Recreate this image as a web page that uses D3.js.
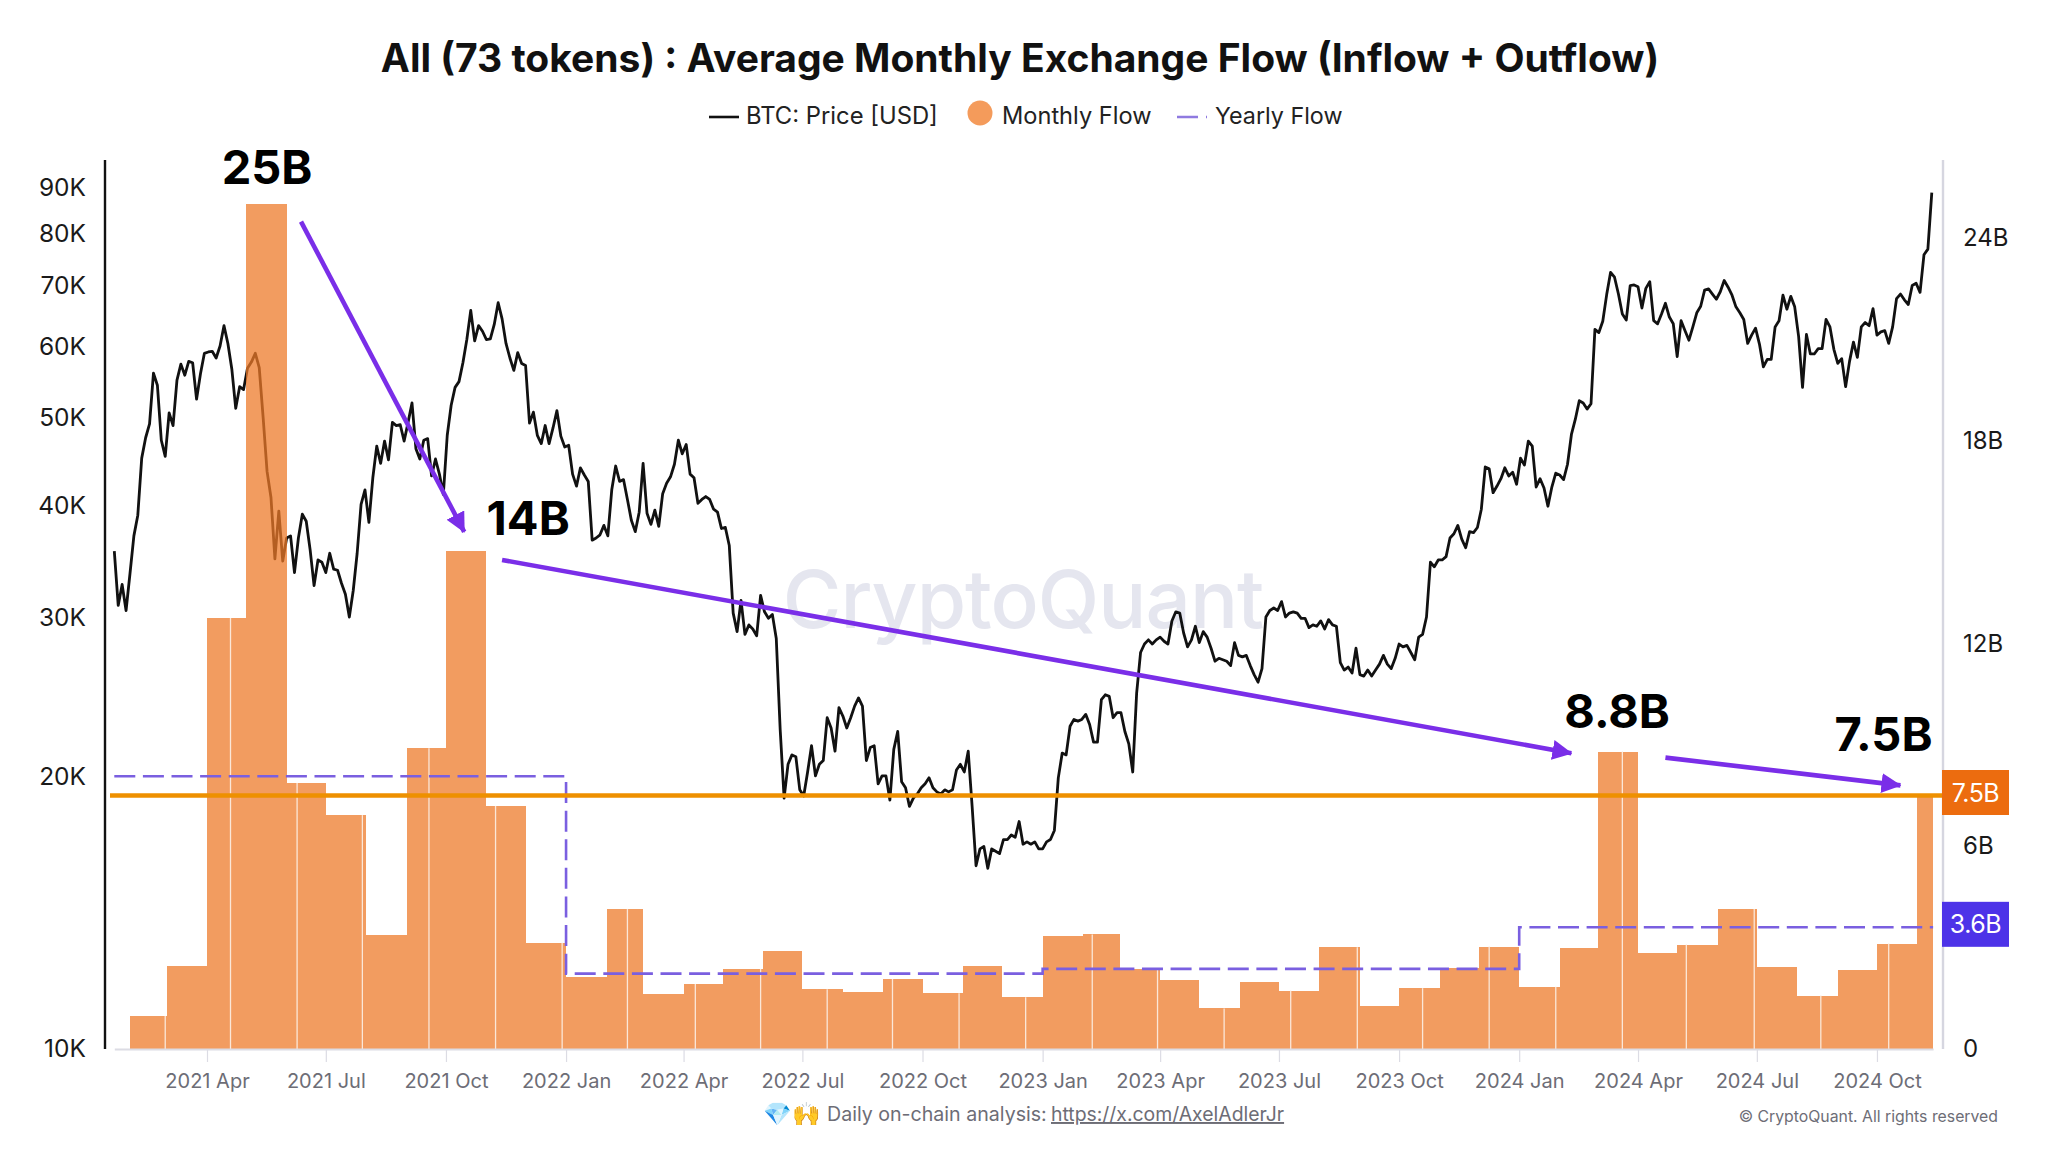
<!DOCTYPE html>
<html><head><meta charset="utf-8">
<script src="https://cdn.jsdelivr.net/npm/d3@7/dist/d3.min.js"></script>
<style>html,body{margin:0;padding:0;background:#fff}svg{display:block}text{font-family:Inter,"Noto Sans",sans-serif}</style>
</head><body><svg id="c" width="2048" height="1152"></svg>
<script>
// Monthly flow in billions USD, one value per calendar month starting Feb 2021
const flowStartMonth = "2021-02-01";
const monthlyFlow = [0.98,2.46,12.75,25.0,7.87,6.92,3.36,8.9,14.74,7.19,3.14,
  2.13,4.14,1.63,1.92,2.37,2.9,1.77,1.69,2.07,1.65,2.45,1.53,
  3.35,3.39,2.37,2.03,1.2,1.99,1.73,3.01,1.27,1.8,2.4,3.03,
  1.84,2.98,8.8,2.83,3.09,4.14,2.44,1.58,2.33,3.12,7.5];
// Yearly flow in billions USD
const yearlyStarts = ["2021-01-20","2022-01-01","2023-01-01","2024-01-01","2024-11-13"];
const yearlyFlow = [8.07,2.23,2.37,3.6,3.6];
// BTC price in thousand USD, one reading every 3 days starting 2021-01-20
const priceStart = "2021-01-20";
const btcPrice = [35.5,30.9,32.6,30.5,33.5,36.9,38.9,45.0,47.4,49.1,55.9,54.2,47.1,45.2,
 50.5,48.9,54.9,57.2,55.6,57.6,57.4,52.3,55.8,58.8,59.0,59.1,58.1,59.9,63.1,60.3,56.5,51.1,54.0,53.6,
 56.6,57.5,58.8,56.7,49.9,43.5,40.7,34.8,39.3,34.6,36.7,36.9,33.6,36.7,39.0,38.3,35.6,32.5,34.7,34.5,
 33.6,35.3,33.9,33.8,32.7,31.8,30.0,32.1,35.3,40.0,41.5,38.2,42.8,46.4,44.4,47.0,44.8,49.3,48.9,49.0,47.0,
 49.3,51.8,46.1,44.9,47.1,47.3,43.0,44.9,43.2,41.0,47.7,51.5,53.9,54.7,57.4,60.9,65.6,60.7,63.1,62.2,
 60.9,61.0,63.3,66.9,64.2,60.3,58.1,56.3,58.9,57.3,57.0,49.2,50.6,47.7,46.7,48.9,46.7,48.6,50.8,47.6,46.3,
 46.5,43.2,41.9,43.9,43.1,42.4,36.5,36.7,37.0,37.9,36.9,41.5,44.1,42.4,42.6,40.5,38.4,37.3,39.2,
 44.4,39.1,38.0,39.4,37.8,41.1,42.2,42.9,44.3,47.1,45.5,46.6,43.2,42.8,40.1,40.5,40.8,40.5,39.5,39.2,37.6,
 37.7,36.0,30.3,28.9,31.3,28.7,29.4,29.1,28.6,31.7,30.4,29.9,30.2,28.4,22.5,18.9,20.6,21.1,21.0,19.3,
 19.0,20.2,21.6,20.0,20.6,20.8,23.2,22.6,21.3,23.8,23.3,22.6,23.2,23.9,24.4,23.9,20.8,21.5,21.6,19.6,20.0,
 20.0,18.8,21.4,22.4,19.7,19.4,18.5,18.9,19.1,19.4,19.6,19.9,19.4,19.2,19.1,19.3,19.2,19.3,20.3,20.6,
 20.2,21.3,18.5,15.9,16.6,16.7,15.8,16.6,16.5,16.4,17.0,17.0,17.2,17.1,17.8,16.8,16.9,16.8,16.9,16.6,
 16.6,16.9,17.0,17.4,19.9,21.2,21.1,22.7,23.1,23.0,23.1,23.4,22.8,21.8,21.8,24.3,24.6,24.5,23.2,23.5,
 23.5,22.4,21.7,20.2,24.7,27.4,28.0,28.3,28.0,28.3,28.5,28.2,28.0,29.7,30.4,30.3,28.8,27.8,28.3,29.3,
 28.1,28.9,28.5,27.7,26.8,27.0,26.9,26.8,26.5,28.1,27.2,27.1,27.2,26.5,25.9,25.4,26.3,30.0,30.5,30.7,30.5,
 31.2,30.0,30.3,30.4,30.3,29.9,29.9,29.2,29.4,29.3,29.7,29.1,29.8,29.4,29.3,26.7,26.2,26.4,26.0,27.7,
 25.9,25.8,26.2,25.8,26.2,26.6,27.2,26.6,26.3,27.0,28.0,27.8,27.9,27.4,26.9,28.5,28.7,30.0,34.5,34.1,34.7,
 34.7,35.0,36.7,37.1,37.9,36.6,35.8,37.3,37.2,37.7,39.5,44.0,43.8,41.2,41.9,42.7,43.9,43.0,43.4,42.1,
 45.0,44.2,47.0,46.4,41.8,42.7,41.7,39.8,41.8,43.3,43.1,42.6,44.3,47.8,49.7,52.1,51.8,51.0,51.7,62.5,
 62.0,63.8,68.3,72.3,71.4,68.4,65.0,64.0,69.9,70.0,69.7,66.0,69.4,70.6,63.9,63.4,65.0,66.8,64.5,63.4,
 58.3,63.9,62.3,60.8,62.9,65.2,66.3,69.1,69.3,68.4,67.5,68.8,70.8,69.6,68.2,66.2,65.2,64.1,60.3,61.6,62.7,
 60.2,56.8,57.9,57.9,62.9,63.9,68.2,65.8,68.0,66.2,61.4,53.9,61.7,58.7,58.7,59.5,59.5,64.1,62.9,59.4,
 57.3,58.0,54.0,57.6,60.5,58.2,62.9,63.6,63.1,65.9,61.6,62.1,62.3,60.3,62.9,67.6,68.4,67.4,66.6,69.9,70.3,
 68.7,75.6,76.7,88.6];
// Axes
const xTickDates = ["2021-04-01","2021-07-01","2021-10-01","2022-01-01","2022-04-01","2022-07-01","2022-10-01","2023-01-01","2023-04-01","2023-07-01","2023-10-01","2024-01-01","2024-04-01","2024-07-01","2024-10-01"];
const xTickLabels = ["2021 Apr","2021 Jul","2021 Oct","2022 Jan","2022 Apr","2022 Jul","2022 Oct","2023 Jan","2023 Apr","2023 Jul","2023 Oct","2024 Jan","2024 Apr","2024 Jul","2024 Oct"];
const priceTicks = [10000,20000,30000,40000,50000,60000,70000,80000,90000];
const priceTickLabels = ["10K","20K","30K","40K","50K","60K","70K","80K","90K"];
const flowTicks = [0,6,12,18,24];
const flowTickLabels = ["0","6B","12B","18B","24B"];
// Thin pale seams that show in the bars, dates
const seamDates = ["2021-02-28","2021-04-19","2021-06-09","2021-07-29","2021-09-18","2021-11-08","2021-12-29","2022-02-17","2022-04-10","2022-05-30","2022-07-20","2022-09-08","2022-10-29","2022-12-19","2023-02-08","2023-03-30","2023-05-20","2023-07-10","2023-08-30","2023-10-19","2023-12-09","2024-01-29","2024-03-20","2024-05-08","2024-06-29","2024-08-19","2024-10-10"];
// Annotations
const refLine = 7.5;
const endTags = [{v:7.5,label:"7.5B",color:"#ec6c0f"},{v:3.6,label:"3.6B",color:"#4d33e8"}];
const calloutLabels = [["25B","2021-05-17",25.6],["14B","2021-12-03",15.2],["8.8B","2024-03-16",9.5],["7.5B","2024-10-06",8.82]];
const arrows = [["2021-06-12",24.48,"2021-10-15",15.3],["2021-11-13",14.47,"2024-02-10",8.75],["2024-04-22",8.62,"2024-10-19",7.8]];

const svg = d3.select("#c");
const D = s => new Date(s+"T00:00:00Z");
const x = d3.scaleUtc().domain([D("2021-01-20"),D("2024-11-13")]).range([114.3,1933.1]);
const yP = d3.scaleLog().domain([10000,90000]).range([1047.5,186.5]);
const yF = d3.scaleLinear().domain([0,25]).range([1049,204]);
const base = yF(0);

// watermark
svg.append("text").attr("x",1023).attr("y",628).attr("text-anchor","middle")
  .attr("font-size",80).attr("font-weight",500).attr("fill","#e5e6ef").attr("letter-spacing",-1).text("CryptoQuant");

// price line (under the translucent bars)
const pStart = D(priceStart);
const priceLine = d3.line().x((d,i)=>x(d3.utcDay.offset(pStart,i*3))).y(d=>yP(d*1000));
svg.append("path").attr("d",priceLine(btcPrice)).attr("fill","none").attr("stroke","#111").attr("stroke-width",2.8).attr("stroke-linejoin","round");

// bars
const mStart = D(flowStartMonth);
const bars = monthlyFlow.map((v,i)=>({v,a:d3.utcMonth.offset(mStart,i),b:i==monthlyFlow.length-1?D("2024-11-13"):d3.utcMonth.offset(mStart,i+1)}));
svg.append("g").selectAll("rect").data(bars).join("rect")
  .attr("x",d=>Math.round(x(d.a))).attr("width",d=>Math.round(x(d.b))-Math.round(x(d.a)))
  .attr("y",d=>yF(d.v)).attr("height",d=>base-yF(d.v))
  .attr("fill","#ee7a28").attr("fill-opacity",.74).attr("shape-rendering","crispEdges");
// seams
svg.append("g").selectAll("line").data(seamDates.map(D)).join("line")
  .attr("x1",d=>x(d)).attr("x2",d=>x(d))
  .attr("y1",d=>yF(bars.find(b=>d>=b.a&&d<b.b).v)).attr("y2",base)
  .attr("stroke","#fbe7d8").attr("stroke-width",1.3);

// axes
const gx = svg.append("g").attr("transform",`translate(0,${base})`).call(
  d3.axisBottom(x).tickValues(xTickDates.map(D)).tickSizeInner(13).tickSizeOuter(0).tickPadding(12).tickFormat((d,i)=>xTickLabels[i]));
gx.select(".domain").attr("stroke","#dcdce4").attr("stroke-width",2);
gx.selectAll(".tick line").attr("stroke","#dcdce4").attr("stroke-width",1.2);
gx.selectAll("text").attr("font-size",20).attr("fill","#6d6d76").attr("font-family","Inter");

const gl = svg.append("g").attr("transform","translate(105,1)").call(
  d3.axisLeft(yP).tickValues(priceTicks).tickSize(0).tickPadding(19).tickFormat((d,i)=>priceTickLabels[i]));
gl.select(".domain").remove();
gl.selectAll("text").attr("font-size",24.5).attr("fill","#1a1a1a").attr("font-family","Inter");
svg.append("line").attr("x1",105).attr("x2",105).attr("y1",160).attr("y2",base).attr("stroke","#111").attr("stroke-width",2.4);

const gr = svg.append("g").attr("transform","translate(1943,0)").call(
  d3.axisRight(yF).tickValues(flowTicks).tickSize(0).tickPadding(20).tickFormat((d,i)=>flowTickLabels[i]));
gr.select(".domain").remove();
gr.selectAll("text").attr("font-size",24).attr("fill","#1a1a1a").attr("font-family","Inter");
svg.append("line").attr("x1",1943).attr("x2",1943).attr("y1",160).attr("y2",base).attr("stroke","#d6d6e0").attr("stroke-width",2.4);

// yearly dashed step
const ySeries = yearlyStarts.map((s,i)=>[D(s),yearlyFlow[i]]);
svg.append("path").attr("d",d3.line().x(d=>x(d[0])).y(d=>yF(d[1])).curve(d3.curveStepAfter)(ySeries))
  .attr("fill","none").attr("stroke","#7a5fe0").attr("stroke-width",2.6).attr("stroke-dasharray","21 7.6");

// reference line + tags
svg.append("line").attr("x1",110).attr("x2",1946).attr("y1",yF(refLine)).attr("y2",yF(refLine)).attr("stroke","#ee9000").attr("stroke-width",4.5);
const tags = svg.append("g").selectAll("g").data(endTags).join("g").attr("transform",d=>`translate(1942,${yF(d.v)-3})`);
tags.append("rect").attr("x",0).attr("y",-22.5).attr("width",67).attr("height",45).attr("fill",d=>d.color);
tags.append("text").attr("x",33.5).attr("y",9).attr("text-anchor","middle").attr("font-size",25).attr("letter-spacing",-.5).attr("fill","#fff").text(d=>d.label);

// arrows
const purple = "#7a2ee8";
const defs = svg.append("defs");
defs.append("marker").attr("id","ah").attr("viewBox","0 0 10 10").attr("refX",9.5).attr("refY",5)
  .attr("markerUnits","userSpaceOnUse").attr("markerWidth",20).attr("markerHeight",20).attr("orient","auto")
  .append("path").attr("d","M0,0L10,5L0,10Z").attr("fill",purple);
svg.append("g").selectAll("line").data(arrows).join("line")
  .attr("x1",d=>x(D(d[0]))).attr("y1",d=>yF(d[1])).attr("x2",d=>x(D(d[2]))).attr("y2",d=>yF(d[3]))
  .attr("stroke",purple).attr("stroke-width",4.6).attr("marker-end","url(#ah)");
// callouts
svg.append("g").selectAll("text").data(calloutLabels).join("text")
  .attr("x",d=>x(D(d[1]))).attr("y",d=>yF(d[2])).attr("text-anchor","middle")
  .attr("font-size",47).attr("font-weight",700).attr("fill","#000").text(d=>d[0]);

// title
svg.append("text").attr("x",1020).attr("y",72).attr("text-anchor","middle").attr("font-size",39).attr("font-weight",700).attr("fill","#111")
  .text("All (73 tokens) : Average Monthly Exchange Flow (Inflow + Outflow)");

// legend
svg.append("line").attr("x1",709).attr("x2",739).attr("y1",117).attr("y2",117).attr("stroke","#111").attr("stroke-width",2.6);
svg.append("text").attr("x",746).attr("y",124).attr("font-size",23.8).attr("fill","#222").text("BTC: Price [USD]");
svg.append("circle").attr("cx",980).attr("cy",113).attr("r",12.5).attr("fill","#f49b5b");
svg.append("text").attr("x",1002).attr("y",124).attr("font-size",23.6).attr("fill","#222").text("Monthly Flow");
svg.append("line").attr("x1",1177).attr("x2",1207).attr("y1",117).attr("y2",117).attr("stroke","#8f7ae0").attr("stroke-width",2.6).attr("stroke-dasharray","21 8 1.5 8");
svg.append("text").attr("x",1215).attr("y",124).attr("font-size",23.3).attr("fill","#222").text("Yearly Flow");

// footer
svg.append("text").attr("x",763).attr("y",1122).attr("font-size",23).text("💎🙌");
svg.append("text").attr("x",827).attr("y",1121).attr("font-size",19.6).attr("fill","#6d6d76").text("Daily on-chain analysis:");
svg.append("text").attr("x",1051).attr("y",1121).attr("font-size",19.4).attr("fill","#6d6d76").attr("text-decoration","underline").text("https://x.com/AxelAdlerJr");
svg.append("text").attr("x",1998).attr("y",1122).attr("text-anchor","end").attr("font-size",15.8).attr("fill","#6d6d76").text("© CryptoQuant. All rights reserved");
</script></body></html>
